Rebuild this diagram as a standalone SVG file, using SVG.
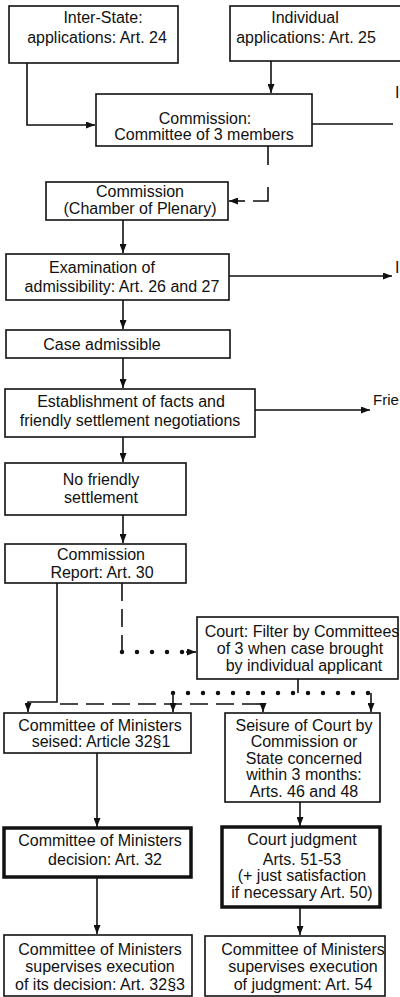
<svg xmlns="http://www.w3.org/2000/svg" width="400" height="997" viewBox="0 0 400 997">
<style>
  .box { fill: #ffffff; stroke: #111111; stroke-width: 1.6; }
  .thick { fill: #ffffff; stroke: #111111; stroke-width: 3.5; }
  text { font-family: "Liberation Sans", Arial, sans-serif; font-size: 16px; fill: #111111; text-anchor: middle; }
  .ln { fill: none; stroke: #111111; stroke-width: 1.6; }
  .dash { fill: none; stroke: #111111; stroke-width: 1.6; stroke-dasharray: 18 8; }
  .dot { fill: none; stroke: #111111; stroke-width: 4.5; stroke-linecap: round; stroke-dasharray: 0 15; }
  .edge { text-anchor: start; }
</style>
<defs>
  <marker id="arr" markerUnits="userSpaceOnUse" markerWidth="9" markerHeight="7" refX="9" refY="3.5" orient="auto">
    <path d="M0,0 L9,3.5 L0,7 z" fill="#111111"/>
  </marker>
</defs>
<rect width="400" height="997" fill="#ffffff"/>

<g id="connectors">
  <path class="ln" d="M27,63 V125 H95" marker-end="url(#arr)"/>
  <path class="ln" d="M271,61 V93" marker-end="url(#arr)"/>
  <path class="ln" d="M312,124 H393"/>
  <path class="ln" d="M268,146 V165"/>
  <path class="ln" d="M268,187 V201 H253"/>
  <path class="ln" d="M245,201 H229" marker-end="url(#arr)"/>
  <path class="ln" d="M123,220 V253" marker-end="url(#arr)"/>
  <path class="ln" d="M229,276 H392" marker-end="url(#arr)"/>
  <path class="ln" d="M123,300 V329" marker-end="url(#arr)"/>
  <path class="ln" d="M123,358 V388" marker-end="url(#arr)"/>
  <path class="ln" d="M255,410 H370" marker-end="url(#arr)"/>
  <path class="ln" d="M123,437 V462" marker-end="url(#arr)"/>
  <path class="ln" d="M123,515 V543" marker-end="url(#arr)"/>
  <path class="ln" d="M57,583 V702 H28 V712" marker-end="url(#arr)"/>
  <path class="dash" d="M60,704 H263"/>
  <path class="ln" d="M263,704 V712" marker-end="url(#arr)"/>
  <path class="dash" d="M122,583 V652"/>
  <path class="dot" d="M122,652 H190"/>
  <path class="ln" d="M186,652 H196" marker-end="url(#arr)"/>
  <path class="ln" d="M298,679 V693"/>
  <path class="dot" d="M173,693 H371"/>
  <path class="ln" d="M173,693 V712" marker-end="url(#arr)"/>
  <path class="ln" d="M371,693 V712" marker-end="url(#arr)"/>
  <path class="ln" d="M97,753 V827" marker-end="url(#arr)"/>
  <path class="ln" d="M300,802 V826" marker-end="url(#arr)"/>
  <path class="ln" d="M97,877 V934" marker-end="url(#arr)"/>
  <path class="ln" d="M300,907 V935" marker-end="url(#arr)"/>
</g>

<g id="interstate">
  <rect class="box" x="9" y="6" width="169" height="57"/>
  <text x="103" y="23">Inter-State:</text>
  <text x="97" y="43">applications: Art. 24</text>
</g>
<g id="individual">
  <rect class="box" x="230" y="6" width="185" height="55"/>
  <text x="305" y="23">Individual</text>
  <text x="306" y="43">applications: Art. 25</text>
</g>
<g id="committee3">
  <rect class="box" x="96" y="94" width="216" height="52"/>
  <text x="205" y="124">Commission:</text>
  <text x="204" y="140">Committee of 3 members</text>
</g>
<g id="chamber">
  <rect class="box" x="46" y="182" width="182" height="38"/>
  <text x="140" y="197">Commission</text>
  <text x="140" y="214">(Chamber of Plenary)</text>
</g>
<g id="examination">
  <rect class="box" x="6" y="254" width="223" height="46"/>
  <text x="102" y="273">Examination of</text>
  <text x="122" y="292">admissibility: Art. 26 and 27</text>
</g>
<g id="admissible">
  <rect class="box" x="6" y="330" width="224" height="28"/>
  <text x="102" y="350">Case admissible</text>
</g>
<g id="establishment">
  <rect class="box" x="5" y="389" width="250" height="48"/>
  <text x="131" y="407">Establishment of facts and</text>
  <text x="130" y="426">friendly settlement negotiations</text>
</g>
<g id="nofriendly">
  <rect class="box" x="5" y="463" width="181" height="52"/>
  <text x="101" y="485">No friendly</text>
  <text x="101" y="503">settlement</text>
</g>
<g id="report">
  <rect class="box" x="5" y="544" width="181" height="39"/>
  <text x="101" y="560">Commission</text>
  <text x="102" y="578">Report: Art. 30</text>
</g>
<g id="courtfilter">
  <rect class="box" x="197" y="617" width="201" height="62"/>
  <text x="302" y="637">Court: Filter by Committees</text>
  <text x="300" y="654">of 3 when case brought</text>
  <text x="304" y="671">by individual applicant</text>
</g>
<g id="seised">
  <rect class="box" x="4" y="713" width="187" height="40"/>
  <text x="100" y="731">Committee of Ministers</text>
  <text x="101" y="747">seised: Article 32§1</text>
</g>
<g id="seisure">
  <rect class="box" x="225" y="713" width="155" height="89"/>
  <text x="304" y="731">Seisure of Court by</text>
  <text x="304" y="747">Commission or</text>
  <text x="304" y="764">State concerned</text>
  <text x="304" y="780">within 3 months:</text>
  <text x="304" y="797">Arts. 46 and 48</text>
</g>
<g id="decision">
  <rect class="thick" x="4" y="828" width="187" height="49"/>
  <text x="100" y="846">Committee of Ministers</text>
  <text x="105" y="865">decision: Art. 32</text>
</g>
<g id="judgment">
  <rect class="thick" x="222" y="827" width="158" height="80"/>
  <text x="302" y="845">Court judgment</text>
  <text x="302" y="865">Arts. 51-53</text>
  <text x="302" y="881">(+ just satisfaction</text>
  <text x="302" y="898">if necessary Art. 50)</text>
</g>
<g id="superviseL">
  <rect class="box" x="4" y="935" width="188" height="61"/>
  <text x="100" y="955">Committee of Ministers</text>
  <text x="100" y="972">supervises execution</text>
  <text x="100" y="990">of its decision: Art. 32§3</text>
</g>
<g id="superviseR">
  <rect class="box" x="205" y="936" width="180" height="60"/>
  <text x="303" y="955">Committee of Ministers</text>
  <text x="303" y="972">supervises execution</text>
  <text x="303" y="990">of judgment: Art. 54</text>
</g>

<g id="edge-labels">
  <text class="edge" x="395" y="98">I</text>
  <text class="edge" x="395" y="273">I</text>
  <text class="edge" x="373" y="405" style="font-size:15px">Frie</text>
</g>
</svg>
